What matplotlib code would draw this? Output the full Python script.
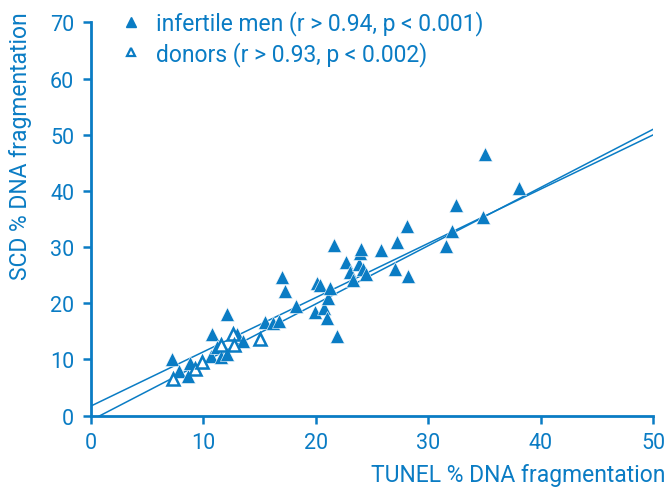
import matplotlib
matplotlib.use("Agg")
import matplotlib.pyplot as plt
from matplotlib.lines import Line2D
import numpy as np

BLUE = "#0a7cc4"

# infertile men: TUNEL % vs SCD %
men_tunel = [7.2, 7.86, 8.66, 8.8, 9.9, 10.7, 10.8, 11.2, 11.6, 12.07, 12.1, 13.0, 13.55,
             15.5, 16.2, 16.7, 17.0, 17.3, 18.2, 19.9, 20.1, 20.4, 20.7, 21.0, 21.1,
             21.3, 21.6, 21.9, 22.7, 23.0, 23.3, 23.8, 23.9, 24.0, 24.2, 24.5, 25.8,
             27.0, 27.2, 28.1, 28.2, 31.6, 32.1, 32.5, 34.9, 35.05, 38.1]
men_scd = [10.1, 8.0, 7.0, 9.4, 9.6, 10.6, 14.5, 12.2, 10.4, 18.1, 11.0, 14.5, 13.3,
           16.6, 16.5, 16.9, 24.6, 22.2, 19.5, 18.5, 23.6, 23.3, 19.1, 17.3, 20.9,
           22.8, 30.4, 14.1, 27.4, 25.6, 24.1, 27.0, 28.9, 29.7, 26.1, 25.2, 29.5,
           26.1, 30.9, 33.8, 24.9, 30.2, 32.9, 37.5, 35.3, 46.5, 40.6]

# donors
donor_tunel = [7.3, 9.25, 9.9, 11.6, 12.6, 12.7, 15.0]
donor_scd = [6.5, 8.3, 9.5, 12.5, 14.5, 12.5, 13.6]

# regression lines (intercept, slope)
fit_men = (-0.85, 1.037)
fit_donors = (1.7, 0.966)

legend_labels = ["infertile men (r > 0.94, p < 0.001)", "donors (r > 0.93, p < 0.002)"]
x_ticks = [0, 10, 20, 30, 40, 50]
y_ticks = [0, 10, 20, 30, 40, 50, 60, 70]

plt.rcParams["font.family"] = ["Roboto", "DejaVu Sans"]

fig = plt.figure(figsize=(6.68, 4.89), dpi=100)
ax = fig.add_axes([0.136, 0.148, 0.842, 0.804])

xs = np.array([x_ticks[0], x_ticks[-1]], dtype=float)
for b0, b1 in (fit_men, fit_donors):
    ax.plot(xs, b0 + b1 * xs, color=BLUE, lw=1.1, zorder=2)

ax.plot(men_tunel, men_scd, "^", ms=10, color=BLUE, mec="white", mew=0.4,
        linestyle="none", zorder=3)
ax.plot(donor_tunel, donor_scd, "^", ms=9, mfc="white", mec=BLUE, mew=1.8,
        linestyle="none", zorder=4)

ax.set_xlim(0, 50)
ax.set_ylim(0, 70)
ax.set_xticks(x_ticks)
ax.set_yticks(y_ticks)
for side in ("top", "right"):
    ax.spines[side].set_visible(False)
for side in ("left", "bottom"):
    ax.spines[side].set_color(BLUE)
    ax.spines[side].set_linewidth(2.0)
ax.tick_params(colors=BLUE, labelcolor=BLUE, labelsize=15.5, length=6, width=1.8, pad=6)

fig.text(0.996, 0.028, "TUNEL % DNA fragmentation", color=BLUE, fontsize=16.5,
         ha="right", va="center")
fig.text(0.03, 0.975, "SCD % DNA fragmentation", color=BLUE, fontsize=16.5,
         ha="center", va="top", rotation=90)

# legend with small markers
proxies = [
    Line2D([], [], marker="^", ms=6.5, color=BLUE, linestyle="none"),
    Line2D([], [], marker="^", ms=6, mfc="white", mec=BLUE, mew=1.6, linestyle="none"),
]
ax.legend(proxies, legend_labels, loc="upper left",
          bbox_to_anchor=(0.018, 1.083), frameon=False, fontsize=16.5,
          handlelength=0.8, handletextpad=0.7, labelspacing=0.24, labelcolor=BLUE)

fig.savefig("out.png", dpi=100)
